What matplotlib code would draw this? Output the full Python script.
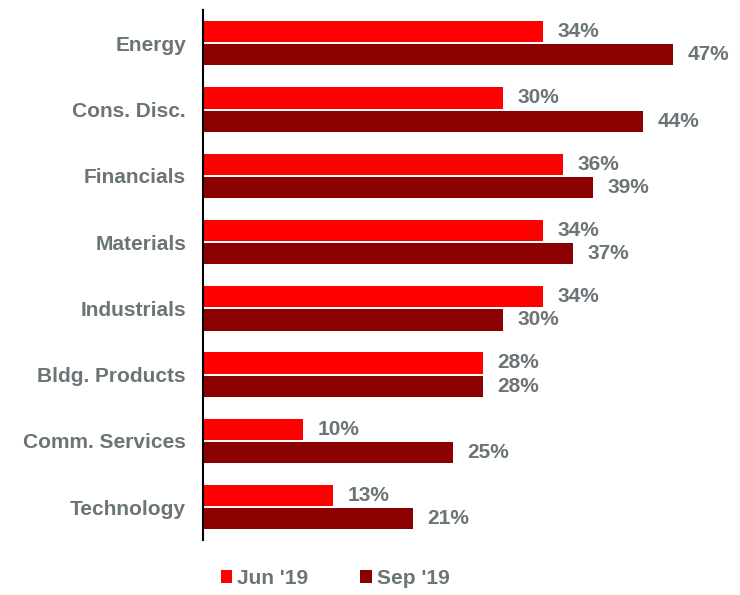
import matplotlib.pyplot as plt
import numpy as np

plt.rcParams['font.family'] = ['Liberation Sans', 'DejaVu Sans']

categories = ["Energy", "Cons. Disc.", "Financials", "Materials", "Industrials",
              "Bldg. Products", "Comm. Services", "Technology"]
jun_19 = [34, 30, 36, 34, 34, 28, 10, 13]
sep_19 = [47, 44, 39, 37, 30, 28, 25, 21]

gray = '#6b7476'
c_jun = '#ff0000'
c_sep = '#8b0000'

fig = plt.figure(figsize=(7.4, 5.95), dpi=100)
ax = fig.add_axes([0.274, 0.092, 0.72, 0.891])

y = np.arange(len(categories))
h = 0.32
b1 = ax.barh(y - 0.175, jun_19, height=h, color=c_jun, label="Jun '19")
b2 = ax.barh(y + 0.175, sep_19, height=h, color=c_sep, label="Sep '19")

for bars, vals in [(b1, jun_19), (b2, sep_19)]:
    for bar, v in zip(bars, vals):
        ax.text(v + 1.5, bar.get_y() + bar.get_height() / 2, f"{v}%",
                va='center', ha='left', fontsize=15, fontweight='bold', color=gray)

ax.set_ylim(len(categories) - 0.5, -0.5)
ax.set_xlim(0, 53.3)
ax.set_yticks(y)
ax.set_yticklabels(categories, fontsize=15, fontweight='bold', color=gray)
ax.tick_params(axis='y', length=0, pad=12)
ax.set_xticks([])
for s in ['top', 'right', 'bottom']:
    ax.spines[s].set_visible(False)
ax.spines['left'].set_linewidth(1.5)

fig.legend(handles=[b1, b2], loc='center left', bbox_to_anchor=(0.298, 0.028),
           ncol=2, frameon=False, handlelength=0.55, handleheight=0.55,
           handletextpad=0.25, columnspacing=2.5, borderaxespad=0, borderpad=0,
           prop={'size': 15, 'weight': 'bold'}, labelcolor=gray)

fig.savefig('out.png', dpi=100)
